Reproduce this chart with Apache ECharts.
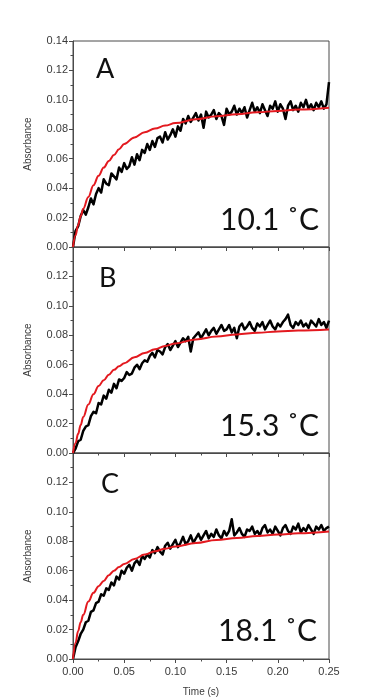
<!DOCTYPE html>
<html><head><meta charset="utf-8">
<script src="https://cdn.jsdelivr.net/npm/echarts@6/dist/echarts.min.js"></script>
<style>html,body{margin:0;padding:0;background:#fff}#c{width:375px;height:700px}</style>
</head><body><div id="c"></div>
<script>
// sampling times of the measured traces (s)
const time = [
0,0.0025,0.005,0.0075,0.01,0.0125,0.015,0.0175,0.02,0.0225,
0.025,0.0275,0.03,0.0325,0.035,0.0375,0.04,0.0425,0.045,0.0475,
0.05,0.0525,0.055,0.0575,0.06,0.0625,0.065,0.0675,0.07,0.0725,
0.075,0.0775,0.08,0.0825,0.085,0.0875,0.09,0.0925,0.095,0.0975,
0.1,0.1025,0.105,0.1075,0.11,0.1125,0.115,0.1175,0.12,0.1225,
0.125,0.1275,0.13,0.1325,0.135,0.1375,0.14,0.1425,0.145,0.1475,
0.15,0.1525,0.155,0.1575,0.16,0.1625,0.165,0.1675,0.17,0.1725,
0.175,0.1775,0.18,0.1825,0.185,0.1875,0.19,0.1925,0.195,0.1975,
0.2,0.2025,0.205,0.2075,0.21,0.2125,0.215,0.2175,0.22,0.2225,
0.225,0.2275,0.23,0.2325,0.235,0.2375,0.24,0.2425,0.245,0.2475,
0.25];
const absA = [
0.000,0.011,0.014,0.021,0.025,0.022,0.027,0.033,0.029,0.036,
0.040,0.037,0.046,0.043,0.042,0.050,0.048,0.046,0.054,0.051,
0.057,0.053,0.055,0.061,0.056,0.063,0.059,0.066,0.064,0.070,
0.066,0.072,0.068,0.074,0.075,0.071,0.078,0.073,0.076,0.080,
0.075,0.082,0.079,0.087,0.084,0.089,0.085,0.088,0.091,0.086,
0.090,0.081,0.092,0.088,0.090,0.093,0.087,0.091,0.089,0.083,
0.094,0.090,0.092,0.096,0.090,0.094,0.091,0.095,0.088,0.093,
0.098,0.092,0.095,0.091,0.097,0.093,0.089,0.096,0.094,0.099,
0.092,0.097,0.094,0.087,0.096,0.099,0.093,0.096,0.092,0.098,
0.095,0.100,0.094,0.097,0.093,0.098,0.095,0.099,0.094,0.097,
0.112];
const absB = [
0.000,0.003,0.008,0.009,0.015,0.018,0.019,0.025,0.028,0.027,
0.034,0.033,0.039,0.037,0.043,0.041,0.047,0.044,0.050,0.049,
0.051,0.055,0.053,0.054,0.058,0.060,0.057,0.061,0.063,0.062,
0.066,0.068,0.065,0.070,0.069,0.067,0.072,0.074,0.070,0.073,
0.076,0.072,0.075,0.078,0.076,0.079,0.069,0.078,0.080,0.082,
0.078,0.081,0.084,0.080,0.083,0.085,0.081,0.084,0.087,0.083,
0.084,0.087,0.082,0.085,0.078,0.086,0.088,0.084,0.086,0.089,
0.085,0.083,0.088,0.086,0.089,0.084,0.087,0.090,0.086,0.084,
0.088,0.086,0.089,0.091,0.094,0.087,0.085,0.089,0.087,0.090,
0.086,0.088,0.085,0.090,0.088,0.086,0.091,0.087,0.089,0.085,
0.090];
const absC = [
0.000,0.008,0.012,0.017,0.020,0.025,0.026,0.032,0.033,0.038,
0.039,0.044,0.043,0.048,0.047,0.052,0.050,0.056,0.054,0.060,
0.058,0.062,0.064,0.060,0.065,0.067,0.064,0.070,0.068,0.071,
0.069,0.074,0.072,0.076,0.073,0.071,0.077,0.079,0.075,0.078,
0.081,0.076,0.079,0.083,0.078,0.080,0.084,0.079,0.082,0.085,
0.081,0.084,0.087,0.082,0.085,0.083,0.088,0.084,0.082,0.087,
0.084,0.087,0.095,0.084,0.086,0.089,0.085,0.083,0.088,0.087,
0.090,0.085,0.087,0.084,0.089,0.091,0.086,0.088,0.085,0.090,
0.087,0.084,0.089,0.091,0.087,0.085,0.090,0.088,0.092,0.086,
0.089,0.087,0.091,0.088,0.085,0.090,0.088,0.091,0.087,0.089,
0.090];
// fitted curves
const fitT = [0,0.0025,0.005,0.0075,0.01,0.015,0.02,0.025,0.03,0.035,0.04,0.045,0.05,0.06,0.07,0.08,0.09,0.1,0.12,0.14,0.16,0.18,0.2,0.22,0.25];
const fitA = [0,0.008,0.015,0.021,0.026,0.034,0.042,0.0485,0.054,0.0585,0.0625,0.0665,0.070,0.0745,0.078,0.0805,0.0825,0.0842,0.0868,0.0888,0.0903,0.0915,0.0925,0.0934,0.0947];
const fitB = [0,0.0068,0.013,0.019,0.0245,0.033,0.040,0.0455,0.0495,0.0532,0.0565,0.059,0.061,0.065,0.068,0.0705,0.0728,0.0745,0.0772,0.0792,0.0806,0.0817,0.0826,0.0832,0.0839];
const fitC = [0,0.011,0.019,0.025,0.030,0.039,0.045,0.0495,0.053,0.057,0.060,0.0625,0.0645,0.068,0.071,0.0732,0.075,0.0764,0.0788,0.0808,0.0823,0.0836,0.0846,0.0854,0.0866];
const panelLetters = ['A','B','C'];
const temps = ['10.1 ˚C','15.3 ˚C','18.1 ˚C'];

const zip = (xs, ys) => xs.map((x, i) => [x, ys[i]]);
const chart = echarts.init(document.getElementById('c'), null, {renderer:'canvas'});
const tops = [41, 247, 453], H = 206;
const axisColor = '#4a4a4a', labelColor = '#3a3a3a', font = 'Liberation Sans';
const grids = tops.map(t => ({left:73, width:256, top:t, height:H, show:true, borderColor:axisColor, borderWidth:1, backgroundColor:'transparent'}));
const xAxes = tops.map((t, i) => ({
  gridIndex:i, type:'value', min:0, max:0.25, interval:0.05,
  axisLine:{show:true, lineStyle:{color:axisColor, width:1}},
  axisTick:{show:true, length:4, lineStyle:{color:axisColor}},
  minorTick:{show:true, splitNumber:2, length:2.5, lineStyle:{color:axisColor}},
  splitLine:{show:false},
  axisLabel:{show:i===2, color:labelColor, fontFamily:font, fontSize:11, margin:7, formatter:v => v.toFixed(2)},
  name: i===2 ? 'Time (s)' : '', nameLocation:'middle', nameGap:28,
  nameTextStyle:{color:labelColor, fontFamily:font, fontSize:10}
}));
const yAxes = tops.map((t, i) => ({
  gridIndex:i, type:'value', min:0, max:0.14, interval:0.02,
  axisLine:{show:true, lineStyle:{color:axisColor, width:1}},
  axisTick:{show:true, length:4, lineStyle:{color:axisColor}},
  minorTick:{show:true, splitNumber:2, length:2.5, lineStyle:{color:axisColor}},
  splitLine:{show:false},
  axisLabel:{color:labelColor, fontFamily:font, fontSize:11, margin:5, formatter:v => (i>0 && v>0.135) ? '' : v.toFixed(2)},
  name:'Absorbance', nameLocation:'middle', nameGap:40,
  nameTextStyle:{color:labelColor, fontFamily:font, fontSize:10}
}));
const blacks = [absA, absB, absC], reds = [fitA, fitB, fitC];
const series = [];
for (let i = 0; i < 3; i++) {
  series.push({type:'line', xAxisIndex:i, yAxisIndex:i, data:zip(time, blacks[i]), symbol:'none', lineStyle:{color:'#000', width:2.5, join:'round'}, z:2, animation:false});
  series.push({type:'line', xAxisIndex:i, yAxisIndex:i, data:zip(fitT, reds[i]), symbol:'none', smooth:0.4, smoothMonotone:'x', lineStyle:{color:'#e3191f', width:2}, z:3, animation:false});
}
const letterPos = [[96,71],[99,280],[101,486]];
const tempPos = [[319,222],[319,428],[317,633]];
const graphic = [];
for (let i = 0; i < 3; i++) {
  graphic.push({type:'text', left:letterPos[i][0], top:letterPos[i][1]-15, style:{text:panelLetters[i], font:'27px Lato', fill:'#111'}});
  graphic.push({type:'text', right:375-tempPos[i][0], top:tempPos[i][1]-17, style:{text:temps[i], font:'30px Lato', fill:'#111'}});
}
chart.setOption({backgroundColor:'#fff', animation:false, grid:grids, xAxis:xAxes, yAxis:yAxes, series, graphic});
</script></body></html>
